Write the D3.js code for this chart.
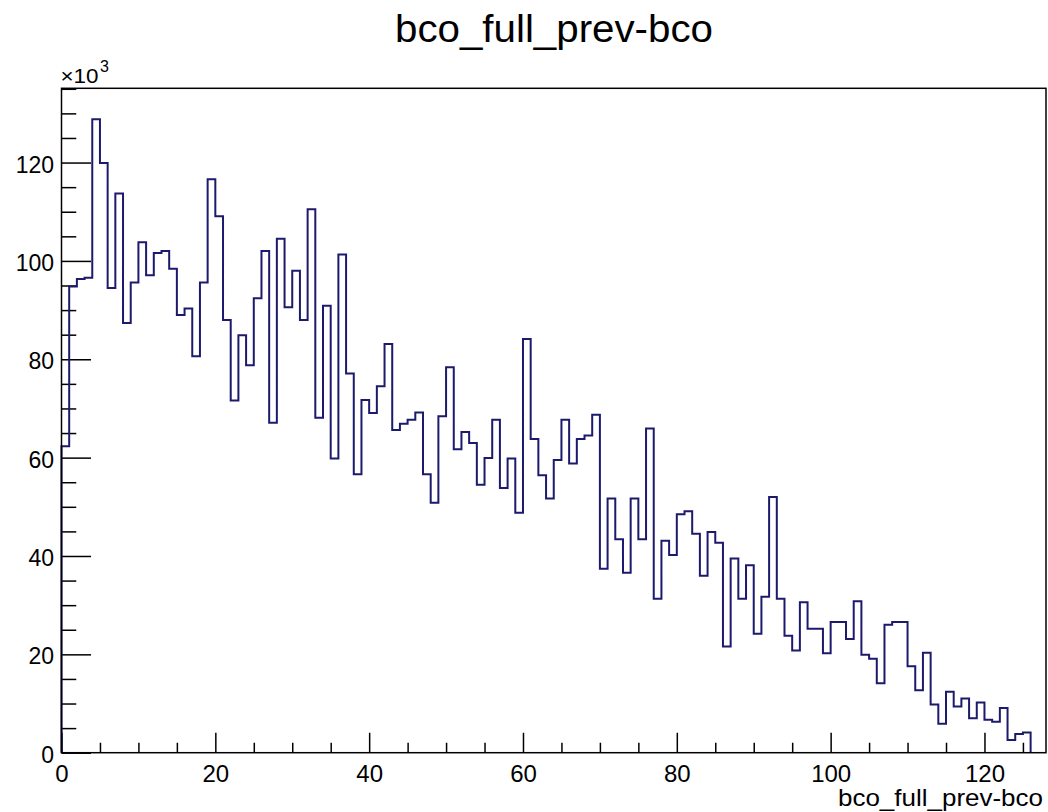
<!DOCTYPE html>
<html>
<head>
<meta charset="utf-8">
<script src="https://cdn.jsdelivr.net/npm/d3@7"></script>
<style>
  html, body { margin: 0; padding: 0; background: #fff; }
  svg { display: block; font-family: "Liberation Sans", Arial, Helvetica, sans-serif; }
</style>
</head>
<body>
<svg id="chart" width="1048" height="812"></svg>
<script>
// ---- data (values in units of 10^3 entries, bins of width 1 starting at 0) ----
const binLowEdges = d3.range(0, 126);
const counts = [
  62.3, 94.8, 96.3, 96.6, 128.8, 119.9, 94.5, 113.7, 87.4, 95.6,
  103.8, 97.1, 101.6, 102.0, 98.4, 89.0, 90.3, 80.6, 95.6, 116.6,
  109.1, 88.0, 71.6, 84.9, 78.8, 92.4, 102.0, 67.1, 104.5, 90.6,
  98.0, 88.0, 110.5, 68.1, 90.9, 59.8, 101.3, 77.1, 56.6, 71.7,
  69.1, 74.5, 83.1, 65.6, 66.9, 67.7, 69.2, 56.6, 50.8, 68.4,
  78.4, 61.7, 65.2, 63.0, 54.5, 59.9, 67.7, 53.8, 59.8, 48.8,
  84.1, 63.8, 56.4, 51.7, 59.5, 67.7, 58.8, 63.8, 64.5, 68.7,
  37.4, 51.7, 43.4, 36.6, 51.7, 43.4, 65.9, 31.3, 43.1, 40.2,
  48.5, 49.1, 44.5, 36.0, 44.9, 42.7, 21.6, 39.5, 31.3, 38.1,
  24.2, 31.7, 52.0, 31.3, 23.8, 20.8, 30.6, 25.2, 25.2, 20.2,
  26.6, 26.6, 23.1, 30.8, 19.9, 19.1, 14.1, 26.0, 26.6, 26.6,
  17.6, 12.7, 20.3, 9.8, 5.9, 12.4, 9.4, 11.0, 7.0, 10.2,
  6.7, 6.3, 9.1, 2.6, 3.8, 4.1
];
const binWidth = 1;
const xMajorTicks = [0, 20, 40, 60, 80, 100, 120];
const yMajorTicks = [0, 20, 40, 60, 80, 100, 120];
const titleText = "bco_full_prev-bco";
const xAxisTitle = "bco_full_prev-bco";
const xDomain = [0, 128];
const yDomain = [0, 135.1];

// ---- layout ----
const frame = { left: 61.5, right: 1046, top: 88.3, bottom: 752.7 };
const svg = d3.select("#chart");
const lineColor = "#1c1a6c";

const x = d3.scaleLinear().domain(xDomain).range([frame.left, frame.right]);
const y = d3.scaleLinear().domain(yDomain).range([frame.bottom, frame.top]);

// minor ticks every 5
const xMinorTicks = d3.range(0, 128, 5).filter(v => !xMajorTicks.includes(v));
const yMinorTicks = d3.range(0, 136, 5).filter(v => !yMajorTicks.includes(v));

const xTickLen = 0.03 * (frame.bottom - frame.top);
const yTickLen = 0.03 * (frame.right - frame.left);

// x axis (ticks pointing inward/up)
const gx = svg.append("g").attr("transform", `translate(0,${frame.bottom})`);
gx.call(d3.axisBottom(x).tickValues(xMinorTicks).tickSizeInner(-xTickLen / 2).tickSizeOuter(0).tickFormat(""));
const gx2 = svg.append("g").attr("transform", `translate(0,${frame.bottom})`);
gx2.call(d3.axisBottom(x).tickValues(xMajorTicks).tickSizeInner(-xTickLen).tickSizeOuter(0).tickPadding(0).tickFormat(d3.format("d")));
[gx, gx2].forEach(g => {
  g.select(".domain").remove();
  g.selectAll(".tick line").attr("stroke", "#000").attr("stroke-width", 1.5);
});
gx2.selectAll(".tick text")
  .attr("y", 0).attr("dy", null)
  .attr("transform", "translate(0,29)")
  .attr("fill", "#000")
  .style("font-size", "24px")
  .style("font-family", "'Liberation Sans', Arial, sans-serif");

// y axis (ticks pointing inward/right)
const gy = svg.append("g").attr("transform", `translate(${frame.left},0)`);
gy.call(d3.axisLeft(y).tickValues(yMinorTicks).tickSizeInner(-yTickLen / 2).tickSizeOuter(0).tickFormat(""));
const gy2 = svg.append("g").attr("transform", `translate(${frame.left},0)`);
gy2.call(d3.axisLeft(y).tickValues(yMajorTicks).tickSizeInner(-yTickLen).tickSizeOuter(0).tickPadding(0).tickFormat(d3.format("d")));
[gy, gy2].forEach(g => {
  g.select(".domain").remove();
  g.selectAll(".tick line").attr("stroke", "#000").attr("stroke-width", 1.5);
});
gy2.selectAll(".tick text")
  .attr("x", -7.5).attr("dy", null)
  .attr("y", 9.6)
  .attr("text-anchor", "end")
  .attr("fill", "#000")
  .style("font-size", "23px")
  .style("font-family", "'Liberation Sans', Arial, sans-serif");

// histogram outline (step)
const pts = [];
pts.push([x(binLowEdges[0]), y(0)]);
counts.forEach((c, i) => {
  pts.push([x(binLowEdges[i]), y(c)]);
  pts.push([x(binLowEdges[i] + binWidth), y(c)]);
});
pts.push([x(binLowEdges[binLowEdges.length - 1] + binWidth), y(0)]);
svg.append("path")
  .attr("d", d3.line()(pts))
  .attr("fill", "none")
  .attr("stroke", lineColor)
  .attr("stroke-width", 2)
  .attr("stroke-linejoin", "miter");

// frame
svg.append("rect")
  .attr("x", frame.left).attr("y", frame.top)
  .attr("width", frame.right - frame.left).attr("height", frame.bottom - frame.top)
  .attr("fill", "none").attr("stroke", "#000").attr("stroke-width", 1.5);

// exponent label
svg.append("text")
  .attr("x", frame.left - 1).attr("y", 82.5)
  .attr("textLength", 38).attr("lengthAdjust", "spacingAndGlyphs")
  .attr("fill", "#000").style("font-size", "21px")
  .text("\u00d710");
svg.append("text")
  .attr("x", 100).attr("y", 72)
  .attr("fill", "#000").style("font-size", "16px")
  .text("3");

// title
svg.append("text")
  .attr("x", 554).attr("y", 42)
  .attr("text-anchor", "middle")
  .attr("textLength", 318).attr("lengthAdjust", "spacingAndGlyphs")
  .attr("fill", "#000").style("font-size", "38px")
  .text(titleText);

// x axis title
svg.append("text")
  .attr("x", 1043).attr("y", 806)
  .attr("text-anchor", "end")
  .attr("textLength", 205).attr("lengthAdjust", "spacingAndGlyphs")
  .attr("fill", "#000").style("font-size", "24px")
  .text(xAxisTitle);
</script>
</body>
</html>
